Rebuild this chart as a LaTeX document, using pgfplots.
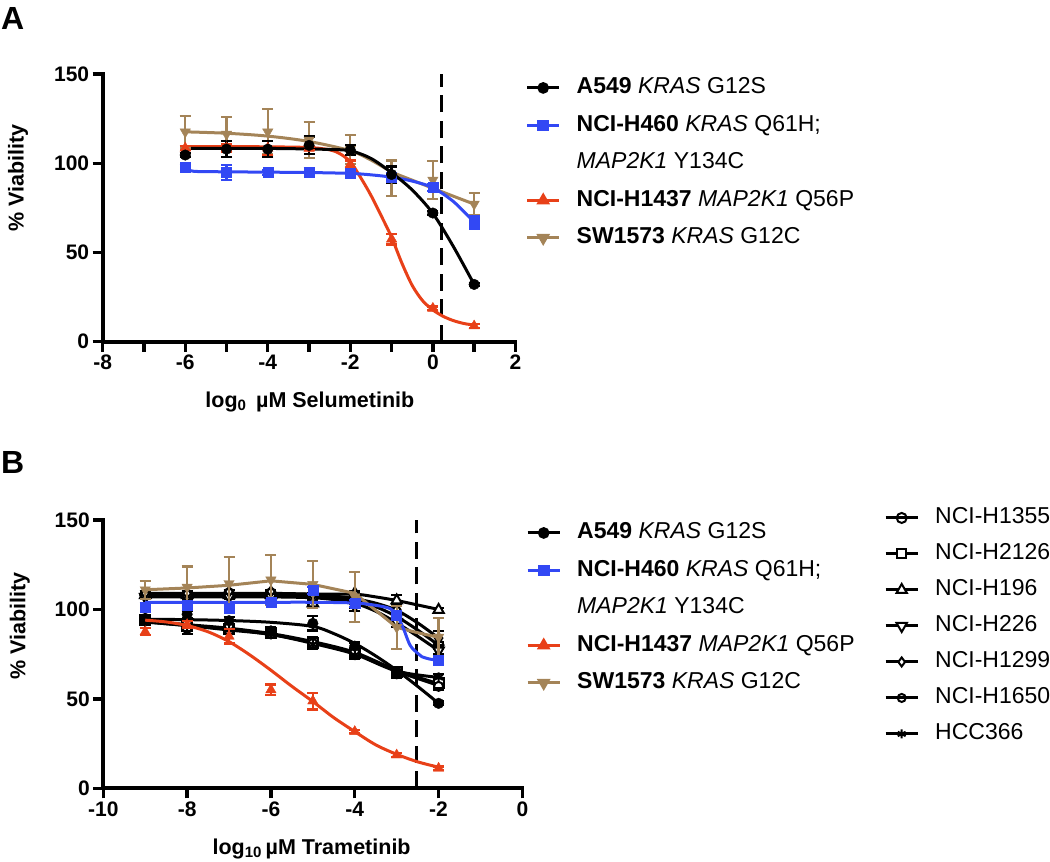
\documentclass[border=0pt]{standalone}
\usepackage{fontspec}
\setmainfont{Liberation Sans}
\usepackage{pgfplots}
\pgfplotsset{compat=1.18}

\definecolor{cblue}{RGB}{50,72,244}
\definecolor{cred}{RGB}{232,64,24}
\definecolor{ctan}{RGB}{164,132,88}

\pgfplotsset{
  panel/.style={
    scale only axis, clip=false,
    axis x line*=bottom, axis y line*=left,
    axis line style={line width=3.8pt, line cap=rect},
    tick align=outside, major tick length=10pt,
    tick style={line width=3.4pt, black},
    ymin=0, ymax=150, ytick={0,50,100,150},
    yticklabels={0,50,100,150},
    tick label style={font=\fontsize{21}{25}\selectfont\bfseries},
    label style={font=\fontsize{21.5}{25}\selectfont\bfseries},
    ylabel={\% Viability},
    legend cell align=left,
    legend style={draw=none, fill=none, inner sep=0pt, row sep=17pt, column sep=16pt,
      font=\fontsize{23}{27}\selectfont, anchor=north west,
      nodes={inner sep=0pt, text height=16pt, text depth=4.5pt}},
    legend image code/.code={\draw[mark repeat=2,mark phase=2] plot coordinates {(0pt,0pt) (16pt,0pt) (32pt,0pt)};},
  },
  fit/.style={line width=3pt, smooth, no marks, forget plot},
  pts/.style={only marks, forget plot, mark size=5pt,
    error bars/y dir=both, error bars/y explicit,
    error bars/error bar style={line width=2.2pt, solid},
    error bars/error mark options={rotate=90, line width=2.2pt, mark size=5.5pt, solid}},
  open/.style={mark options={fill=white, line width=2pt}},
  cut/.style={line width=3pt, dash pattern=on 17pt off 8.5pt, no marks, forget plot},
  leg/.style={line width=3pt, mark size=4.3pt, mark options={solid}},
}

\begin{document}
\begin{tikzpicture}
\path[use as bounding box] (0pt,0pt) rectangle (1050pt,-862pt);
\node[anchor=north west, inner sep=0pt, font=\fontsize{32}{36}\selectfont\bfseries] at (1pt,-7pt) {A};
\node[anchor=north west, inner sep=0pt, font=\fontsize{32}{36}\selectfont\bfseries] at (1pt,-451pt) {B};

% ---------------- Panel A: selumetinib ----------------
\begin{axis}[panel,
  at={(102.7pt,-341.7pt)}, anchor=south west,
  width=412.7pt, height=267.7pt,
  xmin=-8, xmax=2, xtick={-8,...,2},
  xticklabels={-8,,-6,,-4,,-2,,0,,2},
  xlabel={log\textsubscript{0}\, µM Selumetinib},
  xlabel style={at={(axis description cs:0.502,-0.245)}, anchor=base},
  ylabel style={at={(axis description cs:-0.205,0.611)}, anchor=center},
  legend style={at={(axis description cs:1.0245,0.987)}},
]
\addplot[cut] coordinates {(0.2,0) (0.2,150)};

% fitted curves
\addplot[fit, ctan] coordinates {(-6,117.6) (-5,116.8) (-4,115.2) (-3,112.2) (-2,107) (-1.5,101.8) (-1,95.2) (-0.5,90.5) (0,86) (0.5,81.5) (1,77.1)};
\addplot[fit, cred] coordinates {(-6,109.3) (-5,109.3) (-4,109.2) (-3,108.8) (-2.5,107.5) (-2.25,105.3) (-2,100.8) (-1.75,92) (-1.5,82) (-1.25,70.5) (-1,58.5) (-0.75,44) (-0.5,31.5) (-0.25,23) (0,17.8) (0.25,14.2) (0.5,11.8) (0.75,10.2) (1,9.3)};
\addplot[fit, cblue] coordinates {(-6,97.5) (-5.8,95.5) (-5,95.2) (-4,95) (-3,94.8) (-2,94.3) (-1.5,93.5) (-1,92.2) (-0.5,90) (0,86.3) (0.5,78.5) (1,67)};
\addplot[fit, black] coordinates {(-6,108.3) (-5,108.3) (-4,108.3) (-3,108) (-2.5,107.7) (-2,107) (-1.5,102.7) (-1,94.7) (-0.5,85) (0,71.9) (0.5,53.2) (1,32.1)};

% data points with error bars
\addplot[ctan, pts, mark=triangle*, mark size=6pt, mark options={rotate=180}] coordinates {
  (-6,117.6) +- (0,8.8) (-5,116.3) +- (0,9.5) (-4,117.6) +- (0,12.7) (-3,113) +- (0,10)
  (-2,107.7) +- (0,8) (-1,91.5) +- (0,10) (0,90.6) +- (0,10.5) (1,77.1) +- (0,6)};
\addplot[cred, pts, mark=triangle*, mark size=6pt] coordinates {
  (-6,108.5) +- (0,1) (-5,108.5) +- (0,2) (-4,108.5) +- (0,4) (-3,108.3) +- (0,1)
  (-2,99.5) +- (0,2) (-1,57.5) +- (0,3) (0,18.7) +- (0,1) (1,8.8) +- (0,1)};
\addplot[cblue, pts, mark=square*] coordinates {
  (-6,98) +- (0,1) (-5,94.9) +- (0,4.2) (-4,94.9) +- (0,1.5) (-3,94.9) +- (0,2.5)
  (-2,94.3) +- (0,1.5) (-1,92) +- (0,2.5) (0,86.3) +- (0,2) (1,66.7) +- (0,3.5)};
\addplot[black, pts, mark=*, mark size=5.3pt] coordinates {
  (-6,104.6) +- (0,1) (-5,107.9) +- (0,4.4) (-4,107.9) +- (0,4.4) (-3,110) +- (0,5)
  (-2,107.4) +- (0,3) (-1,93.7) +- (0,4.5) (0,72.1) +- (0,1) (1,32.1) +- (0,1)};

\addlegendimage{black, leg, mark=*}
\addlegendentry{\textbf{A549} \textit{KRAS} G12S}
\addlegendimage{cblue, leg, mark=square*}
\addlegendentry{\textbf{NCI-H460} \textit{KRAS} Q61H;}
\addlegendimage{empty legend}
\addlegendentry{\textit{MAP2K1} Y134C}
\addlegendimage{cred, leg, mark=triangle*, mark size=5pt}
\addlegendentry{\textbf{NCI-H1437} \textit{MAP2K1} Q56P}
\addlegendimage{ctan, leg, mark=triangle*, mark size=5pt, mark options={rotate=180}}
\addlegendentry{\textbf{SW1573} \textit{KRAS} G12C}
\end{axis}

% ---------------- Panel B: trametinib (black lines) ----------------
\begin{axis}[panel,
  at={(103.3pt,-788.3pt)}, anchor=south west,
  width=419.1pt, height=268.3pt,
  xmin=-10, xmax=0, xtick={-10,-8,...,0},
  xticklabels={-10,-8,-6,-4,-2,0},
  xlabel={log\textsubscript{10}\,µM Trametinib},
  xlabel style={at={(axis description cs:0.497,-0.245)}, anchor=base},
  ylabel style={at={(axis description cs:-0.199,0.605)}, anchor=center},
  legend style={at={(axis description cs:1.8628,1.0466)}, row sep=15.5pt},
]
\addplot[cut] coordinates {(-2.52,0) (-2.52,150)};

\addplot[fit, black] coordinates {(-9,108) (-8,108) (-7,108) (-6,108) (-5,107.5) (-4.5,106.5) (-4,105) (-3.5,101.5) (-3,96) (-2.5,88.5) (-2,80)};
\addplot[fit, black] coordinates {(-9,93.5) (-8,91.5) (-7,89.5) (-6,86.5) (-5,82) (-4,76) (-3,66) (-2,58.5)};
\addplot[fit, black] coordinates {(-9,108.5) (-7,108.5) (-6,108.5) (-5,108.5) (-4,108.5) (-3.5,107) (-3,105) (-2.5,102.5) (-2,100)};
\addplot[fit, black] coordinates {(-9,107) (-6,107) (-5,106.5) (-4.5,105.5) (-4,103.5) (-3.5,99) (-3,92.5) (-2.5,85) (-2,77)};
\addplot[fit, black] coordinates {(-9,109) (-7,109) (-6,109) (-5,108.5) (-4.5,107.5) (-4,106) (-3.5,103.5) (-3,99.5) (-2.5,92.5) (-2,84)};
\addplot[fit, black] coordinates {(-9,93) (-8,91) (-7,89) (-6,86) (-5,81.5) (-4,75.5) (-3,65.5) (-2,57.5)};
\addplot[fit, black] coordinates {(-9,93) (-8,91) (-7,88.5) (-6,86) (-5,81) (-4,75) (-3,65.5) (-2,62)};
\addplot[fit, black] coordinates {(-9,94.5) (-8,94.3) (-7,93.8) (-6,92.8) (-5,90.5) (-4.5,86.5) (-4,81) (-3.5,74) (-3,66) (-2.5,57) (-2,47.5)};

\addplot[black, pts, open, mark=o] coordinates {
  (-9,108) +- (0,2) (-8,108) +- (0,2) (-7,109) +- (0,2) (-6,109) +- (0,1)
  (-5,107) +- (0,2) (-4,104) +- (0,3) (-3,97) +- (0,2) (-2,80) +- (0,2)};
\addplot[black, pts, open, mark=square*] coordinates {
  (-9,94) +- (0,2) (-8,91) +- (0,2) (-7,89) +- (0,2) (-6,87) +- (0,2)
  (-5,81.5) +- (0,3) (-4,75.5) +- (0,2) (-3,65) +- (0,2) (-2,59) +- (0,2)};
\addplot[black, pts, open, mark=triangle*, mark size=6pt] coordinates {
  (-9,108) +- (0,1) (-8,108) +- (0,1) (-7,108) +- (0,1) (-6,108) +- (0,1)
  (-5,103.4) +- (0,1) (-4,109) +- (0,1) (-3,105) +- (0,3) (-2,99.7) +- (0,1)};
\addplot[black, pts, mark=triangle*, mark size=6pt, mark options={rotate=180, fill=white, line width=2pt}] coordinates {
  (-9,107) +- (0,1) (-8,107) +- (0,1) (-7,107) +- (0,1) (-6,107) +- (0,1)
  (-5,106) +- (0,1) (-4,102) +- (0,3) (-3,93) +- (0,3) (-2,77) +- (0,2)};
\addplot[black, pts, open, mark=diamond*, mark size=5pt] coordinates {
  (-9,109) +- (0,1) (-8,109) +- (0,1) (-7,110) +- (0,1) (-6,110) +- (0,1)
  (-5,108) +- (0,1) (-4,106) +- (0,2) (-3,100) +- (0,3) (-2,84) +- (0,4)};
\addplot[black, pts, open, mark=o, mark size=4.5pt] coordinates {
  (-9,95) +- (0,2) (-8,89.4) +- (0,3) (-7,90) +- (0,2) (-6,86.5) +- (0,2)
  (-5,81) +- (0,3) (-4,76) +- (0,2) (-3,64) +- (0,2) (-2,57) +- (0,2)};
\addplot[black, pts, mark=asterisk, mark size=5pt, mark options={line width=2pt}] coordinates {
  (-9,93) +- (0,1) (-8,91) +- (0,1) (-7,88.5) +- (0,1) (-6,86) +- (0,1)
  (-5,80.5) +- (0,2) (-4,74.5) +- (0,2) (-3,64.5) +- (0,2) (-2,62) +- (0,2)};
\addplot[black, pts, mark=*, mark size=5.3pt] coordinates {
  (-9,94) +- (0,1) (-8,97.3) +- (0,2) (-7,93.7) +- (0,2) (-6,88) +- (0,2)
  (-5,92.2) +- (0,4) (-4,79.5) +- (0,2) (-3,65) +- (0,2) (-2,47.5) +- (0,1)};

\addlegendimage{black, leg, mark=o, mark size=5pt, mark options={solid, fill=white, line width=2pt}}
\addlegendentry{NCI-H1355}
\addlegendimage{black, leg, mark=square*, mark size=4.5pt, mark options={solid, fill=white, line width=2pt}}
\addlegendentry{NCI-H2126}
\addlegendimage{black, leg, mark=triangle*, mark size=6pt, mark options={solid, fill=white, line width=2pt}}
\addlegendentry{NCI-H196}
\addlegendimage{black, leg, mark=triangle*, mark size=6pt, mark options={solid, rotate=180, fill=white, line width=2pt}}
\addlegendentry{NCI-H226}
\addlegendimage{black, leg, mark=diamond*, mark size=4.5pt, mark options={solid, fill=white, line width=2pt}}
\addlegendentry{NCI-H1299}
\addlegendimage{black, leg, mark=o, mark size=4pt, mark options={solid, fill=white, line width=2pt}}
\addlegendentry{NCI-H1650}
\addlegendimage{black, leg, mark=asterisk, mark size=4.5pt, mark options={solid, line width=2pt}}
\addlegendentry{HCC366}
\end{axis}

% ---------------- Panel B: trametinib (coloured lines) ----------------
\begin{axis}[panel, hide axis,
  at={(103.3pt,-788.3pt)}, anchor=south west,
  width=419.1pt, height=268.3pt,
  xmin=-10, xmax=0,
  legend style={at={(axis description cs:1.0086,0.9907)}},
]
\addplot[ctan, line width=3pt, no marks, forget plot] coordinates {(-9,111) (-8,112) (-7,113.5) (-6,116) (-5,114) (-4,109) (-3.5,99.5) (-3,90) (-2.5,87) (-2,84.4)};
\addplot[fit, cred] coordinates {(-9,94) (-8.5,93) (-8,91) (-7.5,87.5) (-7,82) (-6.5,74.5) (-6,66) (-5.5,57) (-5,48.5) (-4.5,39.5) (-4,31.7) (-3.5,24.3) (-3,19) (-2.5,14.8) (-2,11.8)};
\addplot[fit, cblue] coordinates {(-9,104) (-8,104) (-7,104) (-6,104) (-5,104) (-4,103.6) (-3.5,102.3) (-3.16,100.5) (-3,97) (-2.85,90) (-2.68,80) (-2.5,75.5) (-2.4,73.6) (-2.2,72.2) (-2,71.7)};

\addplot[ctan, pts, mark=triangle*, mark size=6pt, mark options={rotate=180}] coordinates {
  (-9,111) +- (0,5) (-8,112.5) +- (0,11.5) (-7,114.5) +- (0,15) (-6,116.5) +- (0,14)
  (-5,114) +- (0,13) (-4,107) +- (0,14) (-3,90) +- (0,12) (-2,84.5) +- (0,10.5)};
\addplot[cred, pts, mark=triangle*, mark size=6pt] coordinates {
  (-9,87.5) +- (0,2) (-8,91.5) +- (0,2) (-7,85) +- (0,4) (-6,55) +- (0,3)
  (-5,48.8) +- (0,4.7) (-4,31.7) +- (0,1) (-3,18.6) +- (0,1) (-2,11.2) +- (0,1)};
\addplot[cblue, pts, mark=square*] coordinates {
  (-9,101.5) +- (0,2) (-8,102.5) +- (0,2) (-7,100.6) +- (0,2) (-6,104) +- (0,1)
  (-5,110.5) +- (0,2) (-4,103.4) +- (0,2) (-3,96.7) +- (0,2) (-2,71.7) +- (0,2)};

\addlegendimage{black, leg, mark=*}
\addlegendentry{\textbf{A549} \textit{KRAS} G12S}
\addlegendimage{cblue, leg, mark=square*}
\addlegendentry{\textbf{NCI-H460} \textit{KRAS} Q61H;}
\addlegendimage{empty legend}
\addlegendentry{\textit{MAP2K1} Y134C}
\addlegendimage{cred, leg, mark=triangle*, mark size=5pt}
\addlegendentry{\textbf{NCI-H1437} \textit{MAP2K1} Q56P}
\addlegendimage{ctan, leg, mark=triangle*, mark size=5pt, mark options={rotate=180}}
\addlegendentry{\textbf{SW1573} \textit{KRAS} G12C}
\end{axis}
\end{tikzpicture}
\end{document}
